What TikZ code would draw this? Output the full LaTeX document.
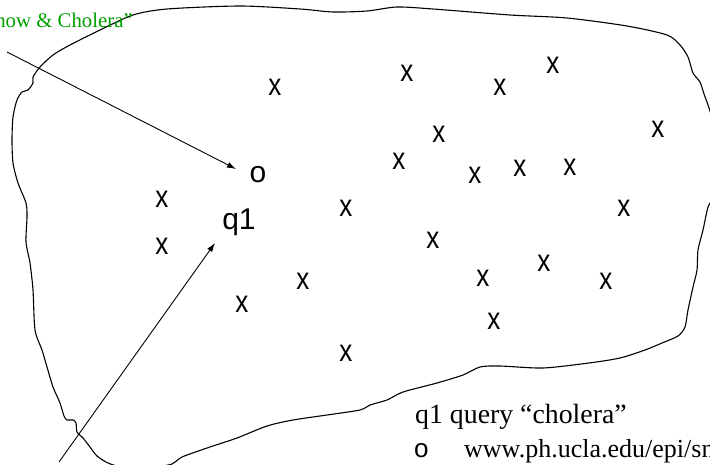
\documentclass[tikz,border=0pt]{standalone}
\usepackage{fontspec}
\setmainfont{Liberation Serif}
\newfontfamily\arialfont{Liberation Sans}
\usetikzlibrary{arrows.meta}
\definecolor{snowgreen}{RGB}{0,160,0}
\begin{document}
\begin{tikzpicture}[x=1pt,y=-1pt,
  doc/.style={font=\arialfont\fontsize{31}{31}\selectfont, inner sep=0pt, xscale=0.84},
  qry/.style={font=\arialfont\fontsize{30}{30}\selectfont, inner sep=0pt},
  legend/.style={inner sep=0pt, anchor=base west},
  arr/.style={-{Latex[length=9pt,width=6pt]}, line width=0.9pt},
  outline/.style={line width=1.1pt, line join=round}]
\clip (0,0) rectangle (710,465);
\fill[white] (0,0) rectangle (710,465);

% hand-drawn boundary of the document space
\draw[outline] plot[smooth cycle, tension=0.45] coordinates {
  (100,30) (133,15) (167,9) (240,6) (300,9) (333,12) (367,11) (397,7)
  (433,9) (510,15) (567,18) (627,26) (667,35) (680,45) (688,57) (693,73)
  (700,82) (704,94) (709,108) (715,130) (717,160) (714,195) (708,207)
  (703,230) (698,250) (697,270) (693,287) (688,310) (685,327) (678,336)
  (662,343) (645,350) (620,358) (589,363) (543,368) (500,366) (480,367)
  (463,375) (437,383) (403,392) (387,400) (370,405) (360,410) (327,415)
  (293,420) (267,426) (237,438) (210,447) (182,457) (172,464) (150,468)
  (125,468) (108,463) (97,456) (90,447) (83,438) (77,432) (76,423)
  (73,420) (67,420) (64,416) (60,403) (53,387) (47,367) (42,350) (35,330)
  (33,290) (30,263) (26,242) (27,217) (26,203) (18,183) (13,163) (12,140)
  (13,117) (17,100) (22,92) (28,90) (33,83) (33,77) (40,67) (53,55)
  (70,45)};

% documents
\node[doc] (d1)  at (275,87)  {x};
\node[doc] (d2)  at (407,73)  {x};
\node[doc] (d3)  at (500,87)  {x};
\node[doc] (d4)  at (553,65)  {x};
\node[doc] (d5)  at (658,129) {x};
\node[doc] (d6)  at (439,134) {x};
\node[doc] (d7)  at (399,161) {x};
\node[doc] (d8)  at (475,175) {x};
\node[doc] (d9)  at (520,168) {x};
\node[doc] (d10) at (570,167) {x};
\node[doc] (d11) at (162,199) {x};
\node[doc] (d12) at (346,208) {x};
\node[doc] (d13) at (624,208) {x};
\node[doc] (d14) at (162,246) {x};
\node[doc] (d15) at (433,240) {x};
\node[doc] (d16) at (544,263) {x};
\node[doc] (d17) at (303,281) {x};
\node[doc] (d18) at (483,278) {x};
\node[doc] (d19) at (606,281) {x};
\node[doc] (d20) at (242,304) {x};
\node[doc] (d21) at (494,321) {x};
\node[doc] (d22) at (346,353) {x};

% the Snow page and the query
\node[qry] (o)  at (258,175) {o};
\node[qry] (q1) at (239,222) {q1};

% caption pointing at the Snow page
\node[font=\fontsize{20.8}{20.8}\selectfont, text=snowgreen, inner sep=0pt,
      anchor=base east] (snow) at (133,28) {“Snow \& Cholera”};
\coordinate (snowtail) at (7,52);
\coordinate (otip) at (236,169);
\draw[arr] (snowtail) -- (otip);

% arrow pointing at the query
\coordinate (qtail) at (59,462);
\coordinate (qtip) at (215,243);
\draw[arr] (qtail) -- (qtip);

% legend
\node[legend, font=\fontsize{27.8}{27.8}\selectfont] (leg1) at (415,423)
  {q1 query “cholera”};
\node[legend, font=\arialfont\fontsize{26}{26}\selectfont] (legbul) at (414,457) {o};
\node[legend, font=\fontsize{26}{26}\selectfont] (leg2) at (464,457)
  {www.ph.ucla.edu/epi/snow.html};
\end{tikzpicture}
\end{document}
